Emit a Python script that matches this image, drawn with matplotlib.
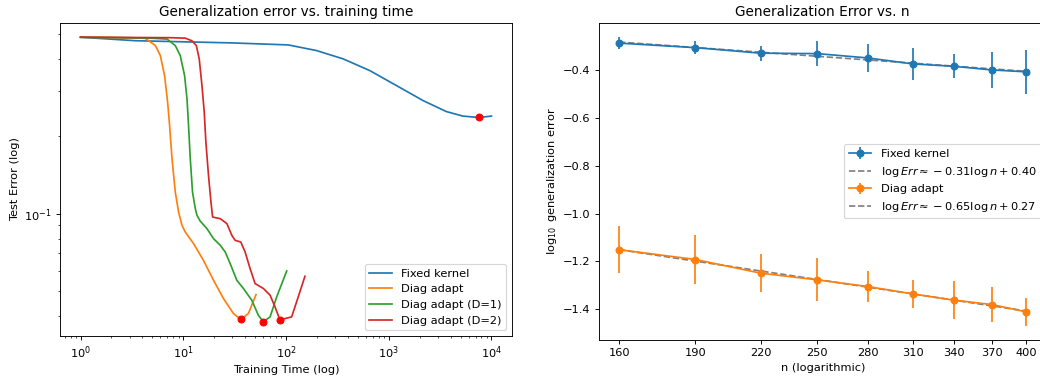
import numpy as np
import matplotlib
matplotlib.use("Agg")
import matplotlib.pyplot as plt

# ---------------- Left panel data: test error vs training time ----------------
fixed_t = [1, 3.42, 28.6, 105, 198.6, 360, 654, 1188, 2153, 3633, 5260, 7530, 10000]
fixed_e = [0.487, 0.472, 0.463, 0.4546, 0.432, 0.401, 0.361, 0.3157, 0.276, 0.250, 0.240, 0.237, 0.240]

diag_t = [1, 3.06, 4.28, 5.35, 5.98, 6.58, 7.04, 7.36, 7.77, 8.36, 9.0, 9.71, 10.45,
          12.6, 15.7, 19.7, 24.6, 30.8, 36.3, 43.0, 51.1]
diag_e = [0.487, 0.485, 0.482, 0.452, 0.413, 0.345, 0.272, 0.2207, 0.1637, 0.1214, 0.1015,
          0.0901, 0.0848, 0.0764, 0.0658, 0.0550, 0.0467, 0.0408, 0.0387, 0.0408, 0.0484]

d1_t = [1, 4.78, 6.95, 8.36, 9.35, 10.3, 10.87, 11.25, 11.7, 12.3, 13.1, 13.6, 14.6, 17.0,
        19.7, 22.9, 25.6, 28.6, 33.2, 38.5, 46.4, 53.8, 60.2, 70.0, 81.2, 101.6]
d1_e = [0.487, 0.483, 0.479, 0.452, 0.413, 0.345, 0.280, 0.2207, 0.1637, 0.1214, 0.1046,
        0.0985, 0.0936, 0.0874, 0.0799, 0.0753, 0.0709, 0.0639, 0.0550, 0.0511, 0.0460,
        0.0402, 0.0379, 0.0396, 0.0474, 0.0598]

d2_t = [1, 7.48, 10.45, 12.1, 13.4, 14.3, 15.2, 16.0, 16.6, 17.6, 18.6, 19.3, 22.9, 26.6,
        29.7, 32.0, 36.3, 40.0, 44.7, 50.0, 60.2, 70.0, 78.2, 87.4, 97.8, 113.5, 131.6, 152.9]
d2_e = [0.487, 0.485, 0.483, 0.472, 0.452, 0.401, 0.3157, 0.2485, 0.190, 0.141, 0.111, 0.097,
        0.0956, 0.0914, 0.0823, 0.0787, 0.0775, 0.0709, 0.0611, 0.0534, 0.0511, 0.0481,
        0.0433, 0.0385, 0.0390, 0.0396, 0.0474, 0.0570]

left_labels = ["Fixed kernel", "Diag adapt", "Diag adapt (D=1)", "Diag adapt (D=2)"]

# ---------------- Right panel data: log10 generalization error vs n ----------------
n_vals = [160, 190, 220, 250, 280, 310, 340, 370, 400]
fixed_mean = [-0.288, -0.307, -0.330, -0.332, -0.350, -0.375, -0.385, -0.400, -0.408]
fixed_err = [0.025, 0.026, 0.032, 0.052, 0.058, 0.068, 0.050, 0.075, 0.093]
diag_mean = [-1.151, -1.192, -1.249, -1.277, -1.305, -1.336, -1.362, -1.380, -1.411]
diag_err = [0.098, 0.101, 0.080, 0.090, 0.066, 0.059, 0.079, 0.075, 0.057]
fit_slopes = [-0.31, -0.65]
fit_intercepts = [0.40, 0.27]
right_labels = ["Fixed kernel", "Diag adapt"]

DPI = 82
fig = plt.figure(figsize=(1040 / DPI, 381 / DPI), dpi=DPI)

# ---------------- Left panel ----------------
ax1 = fig.add_axes([60 / 1040, 45 / 381, 452 / 1040, 313 / 381])
series = [(fixed_t, fixed_e), (diag_t, diag_e), (d1_t, d1_e), (d2_t, d2_e)]
for i, ((t, e), lab) in enumerate(zip(series, left_labels)):
    ax1.plot(t, e, color=f"C{i}", label=lab)
for t, e in series:
    k = int(np.argmin(e))
    ax1.plot(t[k], e[k], "o", color="red", markersize=6)
ax1.set_xscale("log")
ax1.set_yscale("log")
ax1.set_xlabel("Training Time (log)")
ax1.set_ylabel("Test Error (log)")
ax1.set_title("Generalization error vs. training time")
ax1.legend(loc="lower right")

# ---------------- Right panel ----------------
ax2 = fig.add_axes([598.7 / 1040, 41 / 381, 448 / 1040, 317.3 / 381])
n_arr = np.array(n_vals, dtype=float)
handles = []
for i, (m, err, lab) in enumerate(zip([fixed_mean, diag_mean], [fixed_err, diag_err], right_labels)):
    h = ax2.errorbar(n_vals, m, yerr=err, fmt="o-", color=f"C{i}", label=lab, markersize=6)
    slope_fit, icpt_fit = np.polyfit(np.log10(n_arr), m, 1)
    (hf,) = ax2.plot(n_vals, slope_fit * np.log10(n_arr) + icpt_fit, "--", color="gray",
                     label=rf"$\log Err \approx {fit_slopes[i]:.2f}\log n + {fit_intercepts[i]:.2f}$")
    handles += [h, hf]
ax2.set_xscale("log")
ax2.set_xticks(n_vals)
ax2.set_xticklabels([str(v) for v in n_vals])
ax2.xaxis.set_minor_locator(matplotlib.ticker.NullLocator())
ax2.set_xlabel("n (logarithmic)")
ax2.set_ylabel(r"$\log_{10}$ generalization error")
ax2.set_title("Generalization Error vs. n")
ax2.legend(handles=handles, labels=[hh.get_label() for hh in handles], loc="center right")

fig.savefig("out.png", dpi=DPI)
